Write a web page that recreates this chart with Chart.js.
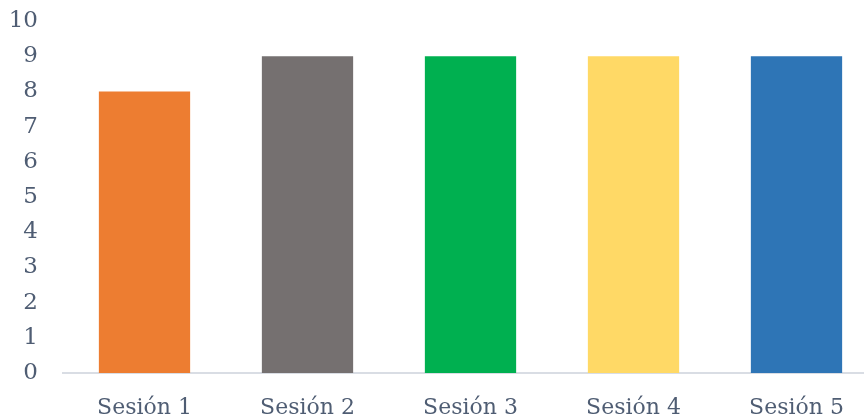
<!DOCTYPE html>
<html>
<head>
<meta charset="utf-8">
<script src="https://cdn.jsdelivr.net/npm/chart.js@4/dist/chart.umd.min.js"></script>
<style>
  html, body { margin: 0; padding: 0; background: #ffffff; overflow: hidden; }
  #wrap { width: 880px; height: 420px; }
</style>
</head>
<body>
<div id="wrap"><canvas id="c" width="880" height="420"></canvas></div>
<script>
const sessions = ['Sesión 1', 'Sesión 2', 'Sesión 3', 'Sesión 4', 'Sesión 5'];
const scores = [8, 9, 9, 9, 9];
const barColors = ['#ED7D31', '#757070', '#00B050', '#FFD966', '#2E75B6'];

const textColor = '#4F5D73';
const fontFamily = '"DejaVu Serif", "Liberation Serif", serif';

new Chart(document.getElementById('c'), {
  type: 'bar',
  data: {
    labels: sessions,
    datasets: [{
      data: scores,
      backgroundColor: barColors,
      borderWidth: 0,
      barPercentage: 0.56,
      categoryPercentage: 1.0
    }]
  },
  options: {
    responsive: false,
    animation: false,
    layout: { padding: { top: 21, right: 2, left: 0, bottom: 0 } },
    plugins: { legend: { display: false }, tooltip: { enabled: false } },
    scales: {
      x: {
        grid: { display: false, drawTicks: false },
        border: { display: true, color: '#D9DDE4', width: 2 },
        ticks: { color: textColor, font: { family: fontFamily, size: 22 }, padding: 22 },
        afterFit: (s) => { s.height = 47; }
      },
      y: {
        min: 0,
        max: 10,
        grid: { display: false, drawTicks: false },
        border: { display: false },
        ticks: { stepSize: 1, color: textColor, font: { family: fontFamily, size: 23 }, padding: 25 },
        afterFit: (s) => {
          s.width = 63;
          // keep the label gap from pushing the plot area down
          s.paddingTop = 0;
          s.paddingBottom = 0;
        }
      }
    }
  }
});
</script>
</body>
</html>
